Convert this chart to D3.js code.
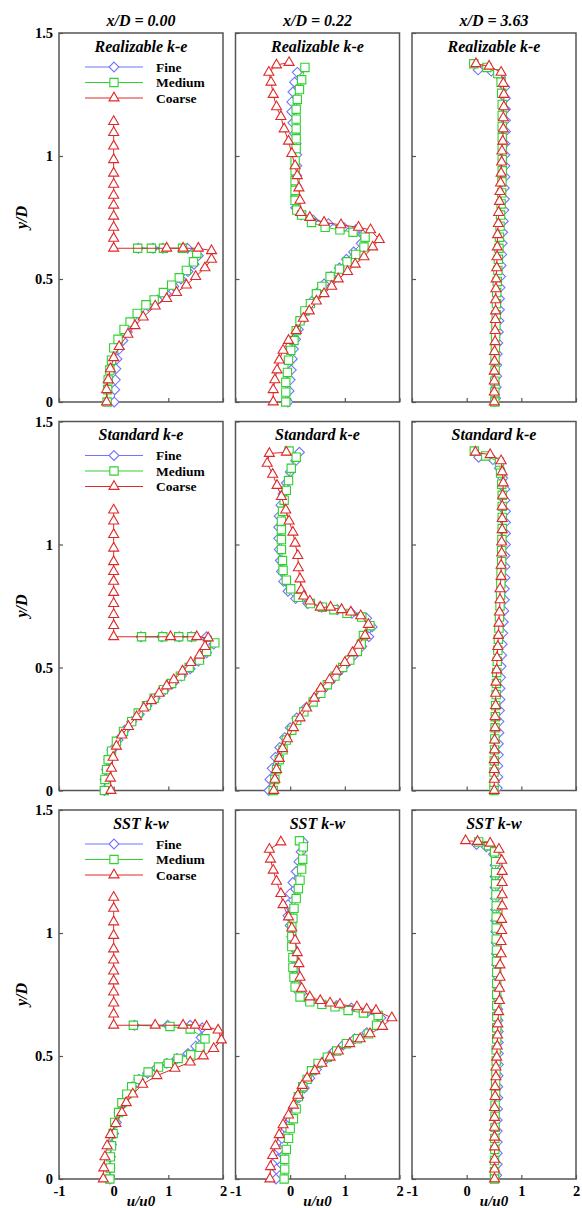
<!DOCTYPE html>
<html>
<head>
<meta charset="utf-8">
<script src="https://cdn.jsdelivr.net/npm/d3@7"></script>
<style>
  body { margin: 0; background: #fff; }
  text { font-family: "Liberation Serif", "Times New Roman", serif; font-weight: bold; fill: #000; }
</style>
</head>
<body>
<svg id="chart" width="582" height="1208"></svg>
<script>
// column / row labels
const colTitles = ["x/D = 0.00", "x/D = 0.22", "x/D = 3.63"];
const modelNames = ["Realizable k-e", "Standard k-e", "SST k-w"];
const seriesNames = ["Fine", "Medium", "Coarse"];
const yTicks = [0, 0.5, 1, 1.5];
const xTicks = [-1, 0, 1, 2];

// [u/u0, y/D]
// ---- Realizable k-e ----
const rke_x000_fine = [[0.45,0.625],[0.72,0.625],[0.9,0.625],[1.35,0.625],[1.55,0.595],[1.47,0.56],[1.36,0.53],[1.23,0.5],[1.1,0.47],[0.96,0.44],[0.8,0.415],[0.63,0.39],[0.48,0.355],[0.35,0.32],[0.25,0.285],[0.17,0.25],[0.1,0.215],[0.06,0.175],[0.04,0.135],[0.03,0.09],[0.02,0.05],[0.01,0]];
const rke_x000_medium = [[0.44,0.625],[0.69,0.625],[0.91,0.625],[1.26,0.625],[1.52,0.605],[1.46,0.57],[1.33,0.535],[1.2,0.505],[1.06,0.475],[0.91,0.445],[0.74,0.415],[0.59,0.395],[0.43,0.36],[0.3,0.325],[0.19,0.295],[0.08,0.255],[0,0.22],[-0.04,0.17],[-0.07,0.13],[-0.1,0.09],[-0.11,0.05],[-0.12,0]];
const rke_x000_coarse = [[0,1.14],[0,1.095],[0,1.04],[0,0.985],[0,0.93],[0,0.885],[0,0.84],[0,0.8],[0,0.755],[0,0.71],[0,0.665],[0,0.625],[0.97,0.625],[1.27,0.625],[1.55,0.625],[1.79,0.615],[1.79,0.58],[1.67,0.545],[1.5,0.51],[1.33,0.475],[1.15,0.445],[0.97,0.42],[0.76,0.39],[0.54,0.345],[0.39,0.31],[0.26,0.275],[0.1,0.225],[0,0.18],[-0.06,0.135],[-0.1,0.09],[-0.13,0.05],[-0.13,0]];

const rke_x022_fine = [[0.13,1.34],[0.08,1.3],[0.05,1.26],[0.03,1.22],[0.03,1.18],[0.05,1.135],[0.08,1.09],[0.11,1.05],[0.12,1.005],[0.12,0.96],[0.12,0.92],[0.11,0.88],[0.1,0.835],[0.1,0.79],[0.2,0.76],[0.42,0.74],[0.7,0.725],[0.98,0.71],[1.2,0.7],[1.33,0.68],[1.3,0.645],[1.16,0.61],[1.03,0.58],[0.9,0.545],[0.75,0.51],[0.62,0.48],[0.5,0.445],[0.4,0.41],[0.32,0.375],[0.23,0.335],[0.15,0.295],[0.1,0.255],[0.06,0.215],[0.04,0.175],[0.02,0.13],[0,0.09],[-0.02,0.045],[-0.04,0]];
const rke_x022_medium = [[0.27,1.36],[0.21,1.31],[0.17,1.27],[0.13,1.23],[0.11,1.19],[0.11,1.15],[0.11,1.11],[0.11,1.07],[0.11,1.03],[0.09,0.98],[0.09,0.94],[0.09,0.9],[0.09,0.86],[0.09,0.82],[0.12,0.78],[0.21,0.76],[0.39,0.73],[0.64,0.71],[0.91,0.7],[1.15,0.69],[1.37,0.67],[1.35,0.63],[1.2,0.6],[1.04,0.57],[0.9,0.54],[0.73,0.51],[0.58,0.47],[0.48,0.44],[0.37,0.4],[0.27,0.37],[0.18,0.33],[0.11,0.29],[0.07,0.25],[0.01,0.21],[-0.03,0.17],[-0.05,0.12],[-0.08,0.08],[-0.08,0.04],[-0.08,0]];
const rke_x022_coarse = [[-0.02,1.38],[-0.25,1.37],[-0.39,1.34],[-0.35,1.3],[-0.31,1.25],[-0.25,1.2],[-0.17,1.16],[-0.11,1.11],[-0.03,1.06],[0.03,1.01],[0.09,0.96],[0.13,0.92],[0.16,0.87],[0.18,0.82],[0.19,0.77],[0.36,0.75],[0.62,0.73],[0.93,0.72],[1.25,0.71],[1.47,0.7],[1.63,0.66],[1.51,0.63],[1.35,0.59],[1.19,0.56],[1.05,0.53],[0.88,0.5],[0.76,0.47],[0.62,0.44],[0.48,0.41],[0.35,0.37],[0.24,0.34],[0.11,0.29],[-0.03,0.25],[-0.13,0.21],[-0.2,0.17],[-0.24,0.13],[-0.28,0.09],[-0.31,0.05],[-0.31,0]];

const rke_x363_fine = [[0.21,1.35],[0.45,1.345],[0.62,1.32],[0.7,1.28],[0.71,1.235],[0.71,1.19],[0.71,1.145],[0.71,1.1],[0.7,1.05],[0.7,1.005],[0.7,0.96],[0.7,0.915],[0.69,0.87],[0.69,0.825],[0.68,0.78],[0.67,0.735],[0.66,0.69],[0.65,0.645],[0.64,0.6],[0.63,0.555],[0.62,0.51],[0.61,0.465],[0.6,0.42],[0.6,0.375],[0.59,0.33],[0.58,0.285],[0.57,0.24],[0.56,0.195],[0.55,0.15],[0.55,0.105],[0.54,0.06],[0.53,0.015]];
const rke_x363_medium = [[0.13,1.375],[0.37,1.36],[0.57,1.335],[0.63,1.3],[0.64,1.255],[0.65,1.21],[0.65,1.165],[0.65,1.12],[0.65,1.075],[0.65,1.03],[0.65,0.985],[0.65,0.94],[0.645,0.895],[0.64,0.85],[0.63,0.805],[0.62,0.76],[0.61,0.715],[0.6,0.67],[0.59,0.625],[0.58,0.58],[0.57,0.535],[0.56,0.49],[0.55,0.445],[0.545,0.4],[0.54,0.355],[0.535,0.31],[0.53,0.265],[0.525,0.22],[0.52,0.175],[0.52,0.13],[0.515,0.085],[0.515,0.04],[0.515,0]];
const rke_x363_coarse = [[0.17,1.375],[0.41,1.365],[0.63,1.34],[0.67,1.295],[0.68,1.25],[0.68,1.2],[0.67,1.155],[0.67,1.11],[0.66,1.06],[0.645,1.02],[0.64,0.975],[0.63,0.93],[0.62,0.89],[0.61,0.855],[0.6,0.815],[0.585,0.77],[0.58,0.725],[0.565,0.68],[0.56,0.63],[0.555,0.59],[0.55,0.545],[0.54,0.5],[0.535,0.46],[0.53,0.415],[0.53,0.37],[0.525,0.335],[0.52,0.29],[0.52,0.245],[0.51,0.205],[0.51,0.165],[0.505,0.125],[0.505,0.085],[0.505,0.04],[0.505,0]];

// ---- Standard k-e ----
const ske_x000_fine = [[0.5,0.625],[0.88,0.625],[1.2,0.625],[1.42,0.625],[1.7,0.625],[1.83,0.595],[1.7,0.56],[1.55,0.525],[1.4,0.495],[1.24,0.465],[1.08,0.435],[0.92,0.405],[0.76,0.375],[0.61,0.345],[0.47,0.31],[0.33,0.28],[0.2,0.245],[0.08,0.205],[-0.03,0.165],[-0.09,0.125],[-0.13,0.085],[-0.16,0.045],[-0.17,0]];
const ske_x000_medium = [[0.51,0.625],[0.9,0.625],[1.19,0.625],[1.43,0.625],[1.85,0.6],[1.7,0.565],[1.57,0.53],[1.38,0.5],[1.22,0.465],[1.06,0.435],[0.91,0.41],[0.74,0.375],[0.6,0.345],[0.45,0.315],[0.33,0.28],[0.18,0.24],[0.05,0.2],[-0.04,0.16],[-0.1,0.125],[-0.13,0.085],[-0.16,0.045],[-0.17,0]];
const ske_x000_coarse = [[0,1.14],[0,1.095],[0,1.04],[0,0.985],[0,0.93],[0,0.89],[0,0.85],[0,0.805],[0,0.76],[0,0.715],[0,0.67],[0,0.625],[1.04,0.625],[1.52,0.625],[1.73,0.62],[1.67,0.585],[1.57,0.55],[1.41,0.52],[1.26,0.485],[1.1,0.45],[0.97,0.425],[0.83,0.395],[0.69,0.365],[0.55,0.335],[0.42,0.3],[0.27,0.26],[0.15,0.225],[0.05,0.18],[-0.01,0.135],[-0.04,0.09],[-0.06,0.05],[-0.05,0]];

const ske_x022_fine = [[0.17,1.375],[0.1,1.34],[0,1.295],[-0.07,1.25],[-0.13,1.205],[-0.17,1.16],[-0.2,1.115],[-0.21,1.07],[-0.21,1.025],[-0.2,0.98],[-0.18,0.935],[-0.16,0.89],[-0.12,0.85],[-0.04,0.81],[0.1,0.78],[0.32,0.76],[0.58,0.745],[0.86,0.735],[1.13,0.72],[1.4,0.7],[1.5,0.665],[1.44,0.625],[1.31,0.585],[1.17,0.55],[1.03,0.515],[0.88,0.48],[0.74,0.445],[0.6,0.41],[0.45,0.375],[0.28,0.335],[0.12,0.295],[0,0.255],[-0.1,0.215],[-0.19,0.175],[-0.27,0.135],[-0.33,0.09],[-0.37,0.045],[-0.39,0]];
const ske_x022_medium = [[-0.02,1.38],[0.11,1.355],[0.02,1.31],[-0.03,1.26],[-0.07,1.22],[-0.11,1.18],[-0.14,1.135],[-0.16,1.095],[-0.16,1.06],[-0.16,1.02],[-0.16,0.98],[-0.14,0.935],[-0.13,0.895],[-0.07,0.855],[0.01,0.82],[0.15,0.785],[0.37,0.76],[0.59,0.745],[0.8,0.735],[1.04,0.72],[1.31,0.705],[1.46,0.67],[1.34,0.63],[1.3,0.595],[1.23,0.565],[1.09,0.53],[0.96,0.5],[0.82,0.465],[0.68,0.43],[0.56,0.395],[0.42,0.36],[0.25,0.32],[0.12,0.285],[0.03,0.245],[-0.07,0.205],[-0.13,0.165],[-0.2,0.125],[-0.25,0.085],[-0.28,0.045],[-0.31,0]];
const ske_x022_coarse = [[-0.07,1.375],[-0.38,1.37],[-0.42,1.33],[-0.32,1.285],[-0.24,1.24],[-0.16,1.195],[-0.08,1.14],[-0.02,1.095],[0.05,1.05],[0.09,1.005],[0.14,0.955],[0.15,0.905],[0.18,0.86],[0.2,0.815],[0.25,0.79],[0.36,0.77],[0.55,0.745],[0.74,0.745],[0.94,0.735],[1.11,0.725],[1.29,0.71],[1.43,0.675],[1.37,0.63],[1.25,0.59],[1.14,0.56],[1,0.52],[0.85,0.485],[0.72,0.45],[0.56,0.415],[0.44,0.375],[0.3,0.335],[0.18,0.295],[0.06,0.255],[-0.05,0.21],[-0.14,0.17],[-0.2,0.13],[-0.25,0.085],[-0.28,0.045],[-0.3,0]];

const ske_x363_fine = [[0.22,1.355],[0.48,1.345],[0.6,1.31],[0.66,1.27],[0.7,1.225],[0.7,1.18],[0.71,1.135],[0.71,1.09],[0.71,1.045],[0.71,1],[0.7,0.955],[0.7,0.91],[0.7,0.865],[0.69,0.82],[0.69,0.775],[0.68,0.73],[0.67,0.685],[0.66,0.64],[0.65,0.595],[0.64,0.55],[0.63,0.505],[0.62,0.46],[0.61,0.415],[0.61,0.37],[0.6,0.325],[0.59,0.28],[0.59,0.235],[0.58,0.19],[0.58,0.145],[0.57,0.1],[0.57,0.055],[0.56,0.01]];
const ske_x363_medium = [[0.14,1.38],[0.35,1.36],[0.6,1.335],[0.62,1.29],[0.64,1.245],[0.65,1.2],[0.65,1.155],[0.65,1.11],[0.65,1.065],[0.645,1.02],[0.64,0.975],[0.64,0.93],[0.63,0.885],[0.625,0.84],[0.62,0.795],[0.61,0.75],[0.6,0.705],[0.59,0.66],[0.58,0.615],[0.57,0.57],[0.56,0.525],[0.55,0.48],[0.545,0.435],[0.54,0.39],[0.53,0.345],[0.525,0.3],[0.52,0.255],[0.515,0.21],[0.51,0.165],[0.505,0.12],[0.5,0.075],[0.5,0.03],[0.5,0]];
const ske_x363_coarse = [[0.16,1.375],[0.43,1.365],[0.63,1.34],[0.65,1.295],[0.67,1.25],[0.66,1.2],[0.65,1.155],[0.65,1.105],[0.65,1.06],[0.64,1.01],[0.64,0.965],[0.63,0.915],[0.63,0.87],[0.61,0.82],[0.61,0.775],[0.6,0.725],[0.59,0.68],[0.58,0.63],[0.57,0.585],[0.555,0.54],[0.55,0.49],[0.535,0.44],[0.53,0.395],[0.53,0.345],[0.52,0.3],[0.52,0.255],[0.51,0.205],[0.51,0.165],[0.505,0.125],[0.505,0.085],[0.505,0.045],[0.505,0]];

// ---- SST k-w ----
const sst_x000_fine = [[0.38,0.625],[0.99,0.625],[1.4,0.625],[1.62,0.615],[1.6,0.575],[1.5,0.54],[1.36,0.51],[1.16,0.49],[0.97,0.47],[0.78,0.45],[0.62,0.43],[0.46,0.405],[0.34,0.375],[0.25,0.34],[0.17,0.305],[0.1,0.27],[0.05,0.23],[0,0.185],[-0.04,0.14],[-0.06,0.09],[-0.07,0.045],[-0.07,0]];
const sst_x000_medium = [[0.36,0.625],[1.03,0.62],[1.4,0.61],[1.67,0.57],[1.58,0.535],[1.41,0.505],[1.18,0.49],[1,0.47],[0.82,0.455],[0.63,0.435],[0.45,0.405],[0.33,0.375],[0.24,0.345],[0.15,0.31],[0.09,0.27],[0.02,0.23],[-0.01,0.185],[-0.04,0.135],[-0.06,0.09],[-0.06,0.045],[-0.07,0]];
const sst_x000_coarse = [[0,1.145],[0,1.1],[0,1.045],[0,0.99],[0,0.935],[0,0.89],[0,0.845],[0,0.805],[0,0.76],[0,0.715],[0,0.67],[0,0.625],[0.76,0.625],[1.27,0.625],[1.49,0.625],[1.7,0.62],[1.91,0.605],[1.97,0.565],[1.83,0.53],[1.64,0.5],[1.4,0.475],[1.12,0.45],[0.79,0.42],[0.53,0.385],[0.35,0.345],[0.23,0.31],[0.15,0.27],[0.04,0.225],[-0.06,0.18],[-0.12,0.135],[-0.16,0.09],[-0.18,0.045],[-0.19,0]];

const sst_x022_fine = [[0.24,1.37],[0.2,1.33],[0.16,1.29],[0.11,1.25],[0.05,1.205],[0,1.16],[-0.04,1.115],[-0.04,1.07],[0,1.03],[0.03,0.985],[0.05,0.94],[0.06,0.895],[0.08,0.85],[0.1,0.805],[0.14,0.765],[0.3,0.735],[0.55,0.72],[0.85,0.705],[1.12,0.695],[1.42,0.68],[1.66,0.655],[1.6,0.625],[1.4,0.595],[1.18,0.57],[0.97,0.545],[0.78,0.515],[0.62,0.48],[0.48,0.445],[0.36,0.41],[0.26,0.37],[0.16,0.33],[0.06,0.29],[-0.03,0.25],[-0.1,0.21],[-0.15,0.165],[-0.2,0.12],[-0.23,0.08],[-0.25,0.04],[-0.26,0]];
const sst_x022_medium = [[0.17,1.375],[0.24,1.35],[0.23,1.3],[0.21,1.26],[0.18,1.215],[0.15,1.18],[0.11,1.14],[0.07,1.1],[0.05,1.06],[0.03,1.025],[0.03,0.985],[0.03,0.945],[0.05,0.9],[0.05,0.86],[0.07,0.82],[0.09,0.78],[0.18,0.74],[0.36,0.72],[0.58,0.71],[0.82,0.7],[1.06,0.685],[1.34,0.675],[1.61,0.665],[1.58,0.625],[1.43,0.59],[1.23,0.57],[1.03,0.55],[0.85,0.52],[0.68,0.495],[0.51,0.47],[0.39,0.44],[0.31,0.405],[0.23,0.375],[0.15,0.335],[0.11,0.285],[0.06,0.245],[0,0.205],[-0.03,0.165],[-0.07,0.12],[-0.1,0.08],[-0.1,0.04],[-0.11,0]];
const sst_x022_coarse = [[-0.17,1.37],[-0.38,1.34],[-0.36,1.3],[-0.31,1.255],[-0.25,1.21],[-0.17,1.16],[-0.13,1.115],[-0.03,1.065],[0.03,1.02],[0.09,0.97],[0.13,0.92],[0.16,0.875],[0.18,0.82],[0.21,0.775],[0.36,0.74],[0.55,0.725],[0.73,0.715],[0.91,0.71],[1.22,0.7],[1.4,0.69],[1.57,0.685],[1.86,0.655],[1.69,0.62],[1.46,0.59],[1.28,0.57],[1.09,0.55],[0.88,0.52],[0.73,0.495],[0.58,0.47],[0.45,0.44],[0.31,0.41],[0.22,0.38],[0.14,0.34],[0.06,0.3],[-0.03,0.26],[-0.13,0.22],[-0.2,0.18],[-0.27,0.135],[-0.32,0.095],[-0.36,0.05],[-0.37,0]];

const sst_x363_fine = [[0.18,1.36],[0.36,1.35],[0.49,1.32],[0.52,1.275],[0.52,1.23],[0.52,1.185],[0.525,1.14],[0.53,1.095],[0.53,1.05],[0.535,1.005],[0.54,0.96],[0.545,0.915],[0.55,0.87],[0.555,0.825],[0.56,0.78],[0.565,0.735],[0.57,0.69],[0.575,0.645],[0.58,0.6],[0.58,0.555],[0.58,0.51],[0.58,0.465],[0.575,0.42],[0.57,0.375],[0.57,0.33],[0.565,0.285],[0.56,0.24],[0.56,0.195],[0.56,0.15],[0.56,0.105],[0.56,0.06],[0.55,0.015]];
const sst_x363_medium = [[0.22,1.37],[0.4,1.355],[0.51,1.33],[0.53,1.29],[0.53,1.245],[0.53,1.2],[0.535,1.155],[0.54,1.11],[0.54,1.065],[0.54,1.02],[0.54,0.975],[0.545,0.93],[0.545,0.885],[0.55,0.84],[0.55,0.795],[0.55,0.75],[0.55,0.705],[0.55,0.66],[0.55,0.615],[0.55,0.57],[0.54,0.525],[0.54,0.48],[0.535,0.435],[0.53,0.39],[0.53,0.345],[0.52,0.3],[0.52,0.255],[0.52,0.21],[0.515,0.165],[0.515,0.12],[0.51,0.075],[0.51,0.03],[0.51,0]];
const sst_x363_coarse = [[-0.02,1.375],[0.2,1.372],[0.43,1.365],[0.59,1.34],[0.64,1.295],[0.65,1.25],[0.65,1.205],[0.65,1.155],[0.65,1.11],[0.64,1.055],[0.64,1.01],[0.63,0.965],[0.63,0.915],[0.61,0.87],[0.61,0.82],[0.6,0.775],[0.6,0.725],[0.585,0.68],[0.57,0.63],[0.565,0.585],[0.56,0.54],[0.55,0.495],[0.535,0.455],[0.535,0.415],[0.52,0.375],[0.52,0.335],[0.51,0.29],[0.51,0.25],[0.51,0.21],[0.51,0.17],[0.51,0.13],[0.51,0.08],[0.51,0.04],[0.51,0]];

// grid of panels, [row][col] -> [fine, medium, coarse]
const panelData = [
  [[rke_x000_fine, rke_x000_medium, rke_x000_coarse], [rke_x022_fine, rke_x022_medium, rke_x022_coarse], [rke_x363_fine, rke_x363_medium, rke_x363_coarse]],
  [[ske_x000_fine, ske_x000_medium, ske_x000_coarse], [ske_x022_fine, ske_x022_medium, ske_x022_coarse], [ske_x363_fine, ske_x363_medium, ske_x363_coarse]],
  [[sst_x000_fine, sst_x000_medium, sst_x000_coarse], [sst_x022_fine, sst_x022_medium, sst_x022_coarse], [sst_x363_fine, sst_x363_medium, sst_x363_coarse]]
];

// styling per series
const colors = ["#7373ff", "#2ed12e", "#e02828"];
const symbols = [
  d3.symbol().type(d3.symbolDiamond2).size(62),
  d3.symbol().type(d3.symbolSquare2).size(88),
  d3.symbol().type(d3.symbolTriangle2).size(72)
];

// layout
const panelW = 164, panelH = 369;
const colX = c => 59 + 176.5 * c;
const rowY = r => 33 + 388.5 * r;

const svg = d3.select("#chart");

for (let r = 0; r < 3; r++) {
  for (let c = 0; c < 3; c++) {
    const left = colX(c), top = rowY(r);
    const x = d3.scaleLinear().domain([-1, 2]).range([left, left + panelW]);
    const y = d3.scaleLinear().domain([0, 1.5]).range([top + panelH, top]);
    const g = svg.append("g");

    // axes with inward ticks, labels only on the outer panels
    const yAxis = d3.axisLeft(y).tickValues(yTicks).tickSize(-4).tickPadding(6)
      .tickFormat(c === 0 ? d3.format("") : () => "");
    const xAxis = d3.axisBottom(x).tickValues(xTicks).tickSize(-4).tickPadding(7)
      .tickFormat(r === 2 ? (d => d < 0 ? "-" + Math.abs(d) : d) : () => "");

    const ya = g.append("g").attr("transform", "translate(" + left + ",0)").call(yAxis);
    const xa = g.append("g").attr("transform", "translate(0," + (top + panelH) + ")").call(xAxis);
    [ya, xa].forEach(a => {
      a.attr("font-family", null).attr("font-size", null);
      a.select(".domain").remove();
      a.selectAll(".tick line").attr("stroke", "#555").attr("stroke-width", 1.2);
      a.selectAll(".tick text").style("font-size", "14.5px").attr("fill", "#000");
    });

    // frame
    g.append("rect")
      .attr("x", left).attr("y", top)
      .attr("width", panelW).attr("height", panelH)
      .attr("fill", "none").attr("stroke", "#555").attr("stroke-width", 1.5);

    // series: fine first, coarse on top
    const line = d3.line().x(d => x(d[0])).y(d => y(d[1]));
    panelData[r][c].forEach((pts, s) => {
      g.append("path")
        .datum(pts)
        .attr("d", line)
        .attr("fill", "none")
        .attr("stroke", colors[s])
        .attr("stroke-width", 1);
      g.selectAll(null)
        .data(pts)
        .enter().append("path")
        .attr("d", symbols[s])
        .attr("transform", d => "translate(" + x(d[0]) + "," + y(d[1]) + ")")
        .attr("fill", "#fff")
        .attr("stroke", colors[s])
        .attr("stroke-width", 1.1);
    });

    // model name
    g.append("text")
      .attr("x", left + panelW / 2).attr("y", top + 18.5)
      .attr("text-anchor", "middle")
      .attr("font-size", 16).attr("font-style", "italic")
      .text(modelNames[r]);

    // legend only in the first column
    if (c === 0) {
      seriesNames.forEach((name, s) => {
        const ly = top + 34 + s * 15.5;
        g.append("line")
          .attr("x1", left + 26).attr("x2", left + 84)
          .attr("y1", ly).attr("y2", ly)
          .attr("stroke", colors[s]).attr("stroke-width", 1);
        g.append("path")
          .attr("d", symbols[s])
          .attr("transform", "translate(" + (left + 55) + "," + ly + ")")
          .attr("fill", "#fff").attr("stroke", colors[s]).attr("stroke-width", 1.1);
        g.append("text")
          .attr("x", left + 97).attr("y", ly + 4.5)
          .attr("font-size", 13.5)
          .text(name);
      });

      // y axis title
      svg.append("text")
        .attr("transform", "translate(" + 27 + "," + (top + panelH / 2) + ") rotate(-90)")
        .attr("text-anchor", "middle")
        .attr("font-size", 16).attr("font-style", "italic")
        .text("y/D");
    }

    // column titles on top, x axis titles at the foot
    if (r === 0) {
      svg.append("text")
        .attr("x", left + panelW / 2).attr("y", 26)
        .attr("text-anchor", "middle")
        .attr("font-size", 16).attr("font-style", "italic")
        .text(colTitles[c]);
    }
    if (r === 2) {
      svg.append("text")
        .attr("x", left + panelW / 2).attr("y", 1206)
        .attr("text-anchor", "middle")
        .attr("font-size", 15).attr("font-style", "italic")
        .text("u/u0");
    }
  }
}
</script>
</body>
</html>
